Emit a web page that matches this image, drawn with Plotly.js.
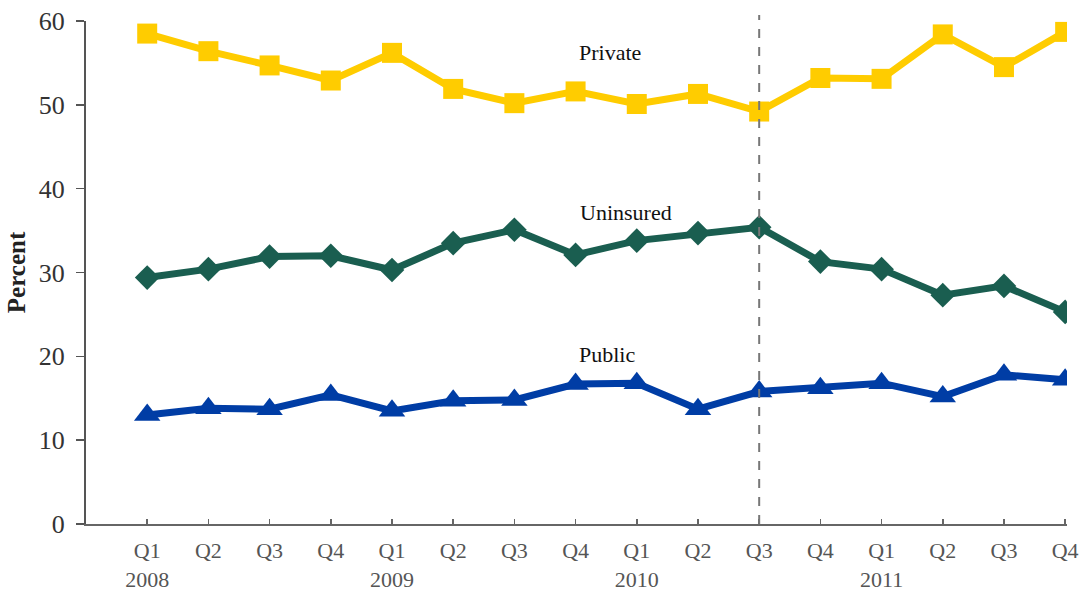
<!DOCTYPE html>
<html>
<head>
<meta charset="utf-8">
<script src="https://cdn.plot.ly/plotly-3.0.1.min.js"></script>
<style>html,body{margin:0;padding:0;background:#fff;}#chart{width:1083px;height:593px;}</style>
</head>
<body>
<div id="chart"></div>
<script>
const quarters = ["Q1","Q2","Q3","Q4","Q1","Q2","Q3","Q4","Q1","Q2","Q3","Q4","Q1","Q2","Q3","Q4"];
const years = ["2008","","","","2009","","","","2010","","","","2011","","",""];
const privateVals   = [58.5,56.4,54.7,52.9,56.2,51.9,50.2,51.6,50.1,51.3,49.2,53.2,53.1,58.4,54.5,58.7];
const uninsuredVals = [29.4,30.4,31.9,32.0,30.3,33.5,35.1,32.1,33.8,34.7,35.4,31.3,30.4,27.3,28.4,25.3];
const publicVals    = [13.0,13.8,13.7,15.4,13.5,14.7,14.8,16.7,16.8,13.7,15.8,16.2,16.8,15.2,17.8,17.2];
const seriesNames = ["Private","Uninsured","Public"];
const markerIndex = 10; // Q3 2010 reference line

const idx = quarters.map((_, i) => i);
const tickText = quarters.map((q, i) => years[i] ? q + "<br>" + years[i] : q);

const serif = "Liberation Serif, Times New Roman, serif";
const traces = [
  {x: idx, y: privateVals, name: seriesNames[0], mode: "lines+markers",
   line: {color: "#FFCC00", width: 7}, marker: {symbol: "square", size: 20, color: "#FFCC00"}},
  {x: idx, y: uninsuredVals, name: seriesNames[1], mode: "lines+markers",
   line: {color: "#1A5E50", width: 7}, marker: {symbol: "diamond", size: 19, color: "#1A5E50"}},
  {x: idx, y: publicVals, name: seriesNames[2], mode: "lines+markers",
   line: {color: "#003DA5", width: 7}, marker: {symbol: "triangle-up", size: 23, color: "#003DA5"}}
];

const layout = {
  width: 1083, height: 593,
  margin: {l: 86, r: 16, t: 21, b: 69},
  paper_bgcolor: "#fff", plot_bgcolor: "#fff",
  showlegend: false,
  font: {family: serif, color: "#333"},
  xaxis: {
    range: [-1, 15.03], tickvals: idx, ticktext: tickText,
    showgrid: false, zeroline: false, showline: true, linecolor: "#666", linewidth: 2,
    ticks: "inside", ticklen: 5, tickcolor: "#666", tickwidth: 1.5,
    tickfont: {family: serif, size: 22, color: "#555"}, ticklabelstandoff: 6
  },
  yaxis: {
    range: [0, 60], dtick: 10, tick0: 0,
    showgrid: false, zeroline: false, showline: true, linecolor: "#555", linewidth: 2,
    ticks: "outside", ticklen: 8, tickcolor: "#555", tickwidth: 1.5,
    tickfont: {family: serif, size: 26, color: "#333"}, ticklabelstandoff: 6,
    title: {text: "<b>Percent</b>", font: {family: serif, size: 25, color: "#222"}, standoff: 6}
  },
  shapes: [{
    type: "line", xref: "x", yref: "paper", x0: markerIndex, x1: markerIndex, y0: 0, y1: 1.012,
    line: {color: "#777", width: 2, dash: "dash"}
  }],
  annotations: [
    {x: 7.57, y: 56.3, xref: "x", yref: "y", text: seriesNames[0], showarrow: false, font: {family: serif, size: 22, color: "#111"}},
    {x: 7.83, y: 37.1, xref: "x", yref: "y", text: seriesNames[1], showarrow: false, font: {family: serif, size: 22, color: "#111"}},
    {x: 7.52, y: 20.2, xref: "x", yref: "y", text: seriesNames[2], showarrow: false, font: {family: serif, size: 22, color: "#111"}}
  ]
};

Plotly.newPlot("chart", traces, layout, {displayModeBar: false, staticPlot: true});
</script>
</body>
</html>
